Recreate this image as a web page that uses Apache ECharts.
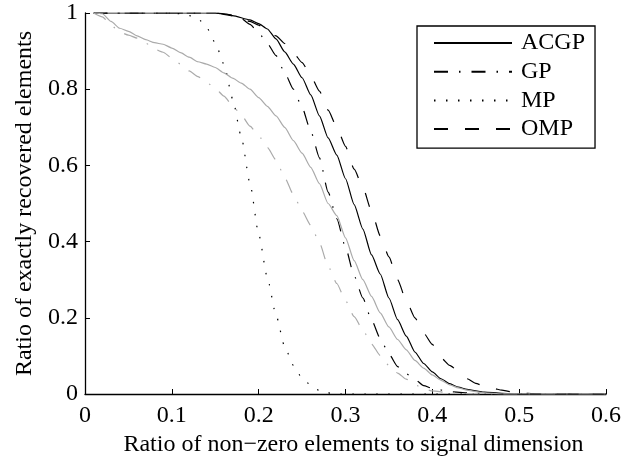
<!DOCTYPE html>
<html>
<head>
<meta charset="utf-8">
<script src="https://cdn.jsdelivr.net/npm/echarts@6/dist/echarts.min.js"></script>
<style>
html,body{margin:0;padding:0;background:#fff;}
#chart{width:623px;height:459px;}
</style>
</head>
<body>
<div id="chart"></div>
<script>
// values
var acgpX = [0.01, 0.15, 0.17, 0.19, 0.20, 0.21, 0.22, 0.23, 0.24, 0.25, 0.26, 0.27, 0.28, 0.29, 0.30, 0.31, 0.32, 0.33, 0.34, 0.35, 0.36, 0.37, 0.38, 0.39, 0.40, 0.41, 0.42, 0.43, 0.44, 0.45, 0.46, 0.48, 0.50, 0.60];
var acgpY = [1, 1, 0.993, 0.982, 0.972, 0.958, 0.932, 0.898, 0.866, 0.83, 0.785, 0.73, 0.672, 0.627, 0.565, 0.497, 0.433, 0.365, 0.315, 0.252, 0.195, 0.152, 0.11, 0.08, 0.058, 0.04, 0.027, 0.018, 0.012, 0.008, 0.005, 0.002, 0, 0];

var gpX = [0.01, 0.15, 0.17, 0.18, 0.19, 0.20, 0.21, 0.22, 0.23, 0.24, 0.25, 0.26, 0.27, 0.28, 0.29, 0.30, 0.31, 0.32, 0.33, 0.34, 0.35, 0.36, 0.37, 0.38, 0.39, 0.40, 0.42, 0.45, 0.48, 0.60];
var gpY = [1, 1, 0.993, 0.985, 0.97, 0.948, 0.92, 0.888, 0.843, 0.8, 0.752, 0.69, 0.62, 0.53, 0.46, 0.385, 0.31, 0.252, 0.194, 0.146, 0.105, 0.072, 0.053, 0.038, 0.022, 0.015, 0.006, 0.002, 0, 0];

var mpX = [0.01, 0.10, 0.11, 0.12, 0.13, 0.14, 0.15, 0.16, 0.17, 0.18, 0.19, 0.20, 0.21, 0.22, 0.23, 0.24, 0.25, 0.26, 0.27, 0.28, 0.29, 0.60];
var mpY = [1, 1, 0.998, 0.993, 0.986, 0.962, 0.922, 0.866, 0.775, 0.675, 0.553, 0.42, 0.305, 0.207, 0.124, 0.075, 0.042, 0.023, 0.009, 0.003, 0, 0];

var ompX = [0.01, 0.15, 0.17, 0.19, 0.20, 0.21, 0.22, 0.23, 0.24, 0.25, 0.26, 0.27, 0.28, 0.29, 0.30, 0.31, 0.32, 0.33, 0.34, 0.35, 0.36, 0.37, 0.38, 0.39, 0.40, 0.41, 0.42, 0.43, 0.44, 0.45, 0.46, 0.47, 0.48, 0.49, 0.50, 0.52, 0.60];
var ompY = [1, 1, 0.995, 0.978, 0.968, 0.955, 0.94, 0.92, 0.895, 0.87, 0.835, 0.795, 0.745, 0.7, 0.65, 0.59, 0.542, 0.48, 0.415, 0.36, 0.3, 0.245, 0.2, 0.16, 0.13, 0.095, 0.075, 0.06, 0.04, 0.028, 0.02, 0.015, 0.01, 0.006, 0.003, 0, 0];

// grey curves (no legend entry)
var acgp2X = [0.01, 0.02, 0.03, 0.04, 0.05, 0.06, 0.07, 0.08, 0.09, 0.10, 0.11, 0.12, 0.13, 0.14, 0.15, 0.16, 0.17, 0.18, 0.19, 0.20, 0.21, 0.22, 0.23, 0.24, 0.25, 0.26, 0.27, 0.28, 0.29, 0.30, 0.31, 0.32, 0.33, 0.34, 0.35, 0.36, 0.37, 0.38, 0.39, 0.40, 0.41, 0.42, 0.43, 0.44, 0.45, 0.46, 0.48, 0.60];
var acgp2Y = [1, 0.998, 0.978, 0.96, 0.952, 0.94, 0.93, 0.922, 0.918, 0.908, 0.896, 0.884, 0.872, 0.866, 0.857, 0.843, 0.829, 0.816, 0.8, 0.778, 0.755, 0.73, 0.7, 0.665, 0.632, 0.595, 0.552, 0.5, 0.468, 0.41, 0.35, 0.3, 0.256, 0.213, 0.176, 0.143, 0.116, 0.088, 0.068, 0.05, 0.036, 0.024, 0.016, 0.01, 0.006, 0.003, 0, 0];

var gp2X = [0.01, 0.02, 0.03, 0.04, 0.05, 0.06, 0.07, 0.08, 0.09, 0.10, 0.11, 0.12, 0.13, 0.14, 0.15, 0.16, 0.17, 0.18, 0.19, 0.20, 0.21, 0.22, 0.23, 0.24, 0.25, 0.26, 0.27, 0.28, 0.29, 0.30, 0.31, 0.32, 0.33, 0.34, 0.35, 0.36, 0.37, 0.38, 0.39, 0.40, 0.42, 0.45, 0.60];
var gp2Y = [1, 0.99, 0.968, 0.95, 0.942, 0.934, 0.921, 0.905, 0.897, 0.882, 0.866, 0.848, 0.833, 0.818, 0.802, 0.782, 0.757, 0.732, 0.703, 0.678, 0.647, 0.614, 0.568, 0.524, 0.48, 0.443, 0.397, 0.335, 0.29, 0.245, 0.203, 0.168, 0.131, 0.101, 0.075, 0.055, 0.039, 0.024, 0.014, 0.008, 0.003, 0, 0];

var xTitle = 'Ratio of non\u2212zero elements to signal dimension';
var yTitle = 'Ratio of exactly recovered elements';
var legendNames = ['ACGP', 'GP', 'MP', 'OMP'];

var font = '"Liberation Serif", "Times New Roman", serif';

function pairs(xs, ys) {
    var out = [];
    for (var i = 0; i < xs.length; i++) out.push([xs[i], ys[i]]);
    return out;
}

function line(name, xs, ys, color, type) {
    return {
        name: name,
        type: 'line',
        data: pairs(xs, ys),
        symbol: 'none',
        smooth: 0.2,
        smoothMonotone: 'x',
        animation: false,
        lineStyle: { color: color, width: 1.2, type: type },
        itemStyle: { color: color }
    };
}

var dashDot = [14, 11, 1.5, 11];
var dashed = [14, 17];
var dotted = [1.5, 10.5];

var myChart = echarts.init(document.getElementById('chart'));
option = {
    backgroundColor: '#fff',
    animation: false,
    grid: { left: 85, right: 17, top: 13, bottom: 65, containLabel: false, outerBoundsMode: 'none' },
    legend: {
        data: legendNames,
        orient: 'vertical',
        left: 417,
        top: 26,
        padding: [5, 10, 7, 16],
        itemWidth: 78,
        itemHeight: 14,
        itemGap: 4.7,
        borderColor: '#000',
        borderWidth: 1.3,
        backgroundColor: '#fff',
        itemStyle: { opacity: 0 },
        textStyle: { fontFamily: font, fontSize: 24, lineHeight: 24, color: '#000', padding: [0, 0, 0, 4] }
    },
    xAxis: {
        type: 'value',
        min: 0,
        max: 0.6,
        interval: 0.1,
        name: xTitle,
        nameLocation: 'middle',
        nameGap: 35,
        nameTextStyle: { fontFamily: font, fontSize: 24, color: '#000', padding: [0, 0, 0, 16] },
        axisLine: { show: true, lineStyle: { color: '#000', width: 1.3 } },
        axisTick: { show: true, inside: true, length: 5, lineStyle: { color: '#000' } },
        axisLabel: { fontFamily: font, fontSize: 24, color: '#000', margin: 10 },
        splitLine: { show: false }
    },
    yAxis: {
        type: 'value',
        min: 0,
        max: 1,
        interval: 0.2,
        name: yTitle,
        nameLocation: 'middle',
        nameGap: 48,
        nameTextStyle: { fontFamily: font, fontSize: 24, color: '#000' },
        axisLine: { show: true, lineStyle: { color: '#000', width: 1.3 } },
        axisTick: { show: true, inside: true, length: 5, lineStyle: { color: '#000' } },
        axisLabel: { fontFamily: font, fontSize: 24, color: '#000', margin: 7 },
        splitLine: { show: false }
    },
    series: [
        line('ACGP', acgpX, acgpY, '#000', 'solid'),
        line('GP', gpX, gpY, '#000', dashDot),
        line('MP', mpX, mpY, '#000', dotted),
        line('OMP', ompX, ompY, '#000', dashed),
        line('ACGP grey', acgp2X, acgp2Y, '#aaaaaa', 'solid'),
        line('GP grey', gp2X, gp2Y, '#aaaaaa', dashDot)
    ]
};
myChart.setOption(option);
</script>
</body>
</html>
